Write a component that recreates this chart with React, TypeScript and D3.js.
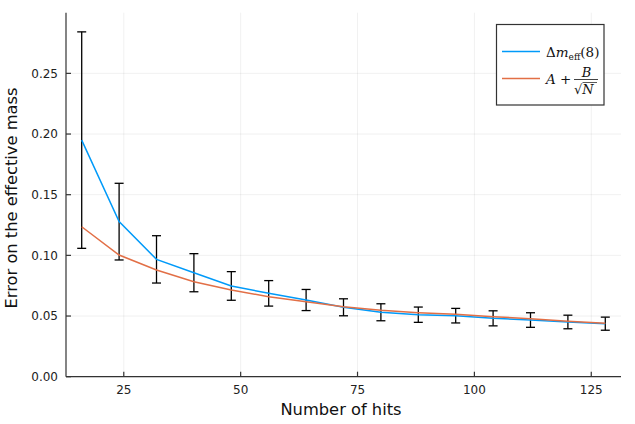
import React, { useEffect, useRef } from "react";
import * as d3 from "d3";

// number of hits
const hits = [16, 24, 32, 40, 48, 56, 64, 72, 80, 88, 96, 104, 112, 120, 128];
// error on m_eff(8)
const deltaMeff = [0.195, 0.1278, 0.0967, 0.0857, 0.0748, 0.0687, 0.0632, 0.0572, 0.0531, 0.0511, 0.0503, 0.0481, 0.0467, 0.0451, 0.0437];
// half-length of the error bars
const errBars = [0.0892, 0.0316, 0.0195, 0.0157, 0.0118, 0.0105, 0.0087, 0.007, 0.007, 0.0063, 0.006, 0.0062, 0.006, 0.0056, 0.0054];
// fit A + B/sqrt(N)
const fitValues = [0.1236, 0.1003, 0.0879, 0.0783, 0.0715, 0.0659, 0.0618, 0.0577, 0.0547, 0.0528, 0.0514, 0.0495, 0.0478, 0.0457, 0.044];

const xTicks = [25, 50, 75, 100, 125];
const yTicks = [0, 0.05, 0.1, 0.15, 0.2, 0.25];

const BLUE = "#009af9";
const ORANGE = "#e26f46";

const App: React.FC = () => {
  const svgRef = useRef<SVGSVGElement | null>(null);

  useEffect(() => {
    if (!svgRef.current) return;
    d3.select(svgRef.current).selectAll("*").remove();

    const width = 635;
    const height = 424;
    const left = 66;
    const right = 621;
    const top = 12.7;
    const bottom = 376.7;

    const svg = d3.select(svgRef.current).attr("width", width).attr("height", height);

    const x = d3.scaleLinear().domain([12.64, 131.36]).range([left, right]);
    const y = d3.scaleLinear().domain([0, 0.3]).range([bottom, top]);

    const font = "'DejaVu Sans', sans-serif";

    // grid
    const grid = svg.append("g").attr("stroke", "#000").attr("stroke-opacity", 0.1).attr("stroke-width", 0.6);
    xTicks.forEach((t) => {
      grid.append("line").attr("x1", x(t)).attr("x2", x(t)).attr("y1", top).attr("y2", bottom);
    });
    yTicks.forEach((t) => {
      grid.append("line").attr("x1", left).attr("x2", right).attr("y1", y(t)).attr("y2", y(t));
    });

    // error bars
    const eb = svg.append("g").attr("stroke", "#000").attr("stroke-width", 1.3);
    hits.forEach((h, i) => {
      const cx = x(h);
      const y0 = y(deltaMeff[i] - errBars[i]);
      const y1 = y(deltaMeff[i] + errBars[i]);
      eb.append("line").attr("x1", cx).attr("x2", cx).attr("y1", y0).attr("y2", y1);
      eb.append("line").attr("x1", cx - 4.5).attr("x2", cx + 4.5).attr("y1", y0).attr("y2", y0);
      eb.append("line").attr("x1", cx - 4.5).attr("x2", cx + 4.5).attr("y1", y1).attr("y2", y1);
    });

    const line = d3.line<number>().x((_, i) => x(hits[i])).y((d) => y(d));

    svg.append("path")
      .attr("d", line(deltaMeff) || "")
      .attr("fill", "none")
      .attr("stroke", BLUE)
      .attr("stroke-width", 1.5);

    svg.append("path")
      .attr("d", line(fitValues) || "")
      .attr("fill", "none")
      .attr("stroke", ORANGE)
      .attr("stroke-width", 1.5);

    // axes
    const ax = svg.append("g").attr("stroke", "#333").attr("stroke-width", 1.2);
    ax.append("line").attr("x1", left).attr("x2", right).attr("y1", bottom).attr("y2", bottom);
    ax.append("line").attr("x1", left).attr("x2", left).attr("y1", top).attr("y2", bottom);
    xTicks.forEach((t) => {
      ax.append("line").attr("x1", x(t)).attr("x2", x(t)).attr("y1", bottom).attr("y2", bottom - 5);
    });
    yTicks.forEach((t) => {
      ax.append("line").attr("x1", left).attr("x2", left + 5).attr("y1", y(t)).attr("y2", y(t));
    });

    svg.append("g")
      .selectAll("text")
      .data(xTicks)
      .enter()
      .append("text")
      .attr("x", (d) => x(d))
      .attr("y", bottom + 17.5)
      .attr("text-anchor", "middle")
      .attr("font-family", font)
      .attr("font-size", 12)
      .attr("fill", "#222")
      .text((d) => d);

    svg.append("g")
      .selectAll("text")
      .data(yTicks)
      .enter()
      .append("text")
      .attr("x", left - 8)
      .attr("y", (d) => y(d))
      .attr("dy", "0.35em")
      .attr("text-anchor", "end")
      .attr("font-family", font)
      .attr("font-size", 12)
      .attr("fill", "#222")
      .text((d) => d3.format(".2f")(d));

    svg.append("text")
      .attr("x", 341)
      .attr("y", 415)
      .attr("text-anchor", "middle")
      .attr("font-family", font)
      .attr("font-size", 16.3)
      .attr("fill", "#111")
      .text("Number of hits");

    svg.append("text")
      .attr("transform", `translate(17, 198) rotate(-90)`)
      .attr("text-anchor", "middle")
      .attr("font-family", font)
      .attr("font-size", 16.3)
      .attr("fill", "#111")
      .text("Error on the effective mass");

    // legend
    const lg = svg.append("g");
    lg.append("rect")
      .attr("x", 496.5)
      .attr("y", 24.5)
      .attr("width", 107.5)
      .attr("height", 80.5)
      .attr("fill", "#fff")
      .attr("stroke", "#333")
      .attr("stroke-width", 1.2);
    lg.append("line").attr("x1", 502).attr("x2", 540).attr("y1", 51.5).attr("y2", 51.5).attr("stroke", BLUE).attr("stroke-width", 1.5);
    lg.append("line").attr("x1", 502).attr("x2", 540).attr("y1", 78.5).attr("y2", 78.5).attr("stroke", ORANGE).attr("stroke-width", 1.5);

    const serif = "'DejaVu Serif', 'Liberation Serif', serif";
    const t1 = lg.append("text").attr("x", 546).attr("y", 56.5).attr("font-family", serif).attr("font-size", 13.5).attr("fill", "#111");
    t1.append("tspan").text("Δ");
    t1.append("tspan").attr("font-style", "italic").text("m");
    t1.append("tspan").attr("font-size", 9).attr("dy", 3).text("eff");
    t1.append("tspan").attr("dy", -3).text("(8)");

    const t2 = lg.append("text").attr("x", 546).attr("y", 83.5).attr("font-family", serif).attr("font-size", 13.5).attr("fill", "#111");
    t2.append("tspan").attr("font-style", "italic").text("A");
    t2.append("tspan").text(" +");

    lg.append("text")
      .attr("x", 586.5)
      .attr("y", 77)
      .attr("text-anchor", "middle")
      .attr("font-family", serif)
      .attr("font-size", 13)
      .attr("font-style", "italic")
      .attr("fill", "#111")
      .text("B");
    lg.append("line").attr("x1", 574).attr("x2", 598).attr("y1", 79.5).attr("y2", 79.5).attr("stroke", "#111").attr("stroke-width", 0.8);
    const sq = lg.append("text")
      .attr("x", 574)
      .attr("y", 93.5)
      .attr("font-family", serif)
      .attr("font-size", 13)
      .attr("fill", "#111");
    sq.append("tspan").text("√");
    sq.append("tspan").attr("font-style", "italic").text("N");
    lg.append("line").attr("x1", 582.5).attr("x2", 597).attr("y1", 82.5).attr("y2", 82.5).attr("stroke", "#111").attr("stroke-width", 0.7);
  }, []);

  return <svg ref={svgRef} style={{ position: "absolute", left: 0, top: 0 }}></svg>;
};

export default App;
